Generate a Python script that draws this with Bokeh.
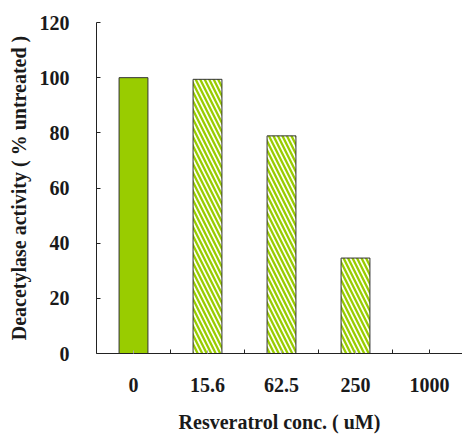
from bokeh.plotting import figure
from bokeh.models import Range1d, FixedTicker, ColumnDataSource
from bokeh.embed import file_html
from bokeh.resources import INLINE

categories = ["0", "15.6", "62.5", "250", "1000"]
values = [100, 99.4, 78.9, 34.6, 0]
y_ticks = [0, 20, 40, 60, 80, 100, 120]

xs = [i + 0.5 for i in range(len(categories))]
GREEN = "#99cc00"
FONT = "Liberation Serif"

p = figure(frame_width=366, frame_height=331, output_backend="svg", toolbar_location=None,
           x_range=Range1d(0, 366 / 74), y_range=Range1d(0, 120),
           min_border_left=96, min_border_top=22, min_border_right=0, min_border_bottom=80)
p.outline_line_color = None
p.xgrid.visible = False
p.ygrid.visible = False

solid = ColumnDataSource(dict(x=xs[:1], top=values[:1]))
hatched = ColumnDataSource(dict(x=xs[1:], top=values[1:]))
p.vbar(x="x", top="top", width=0.39, source=solid, fill_color=GREEN,
       line_color="#333333", line_width=1)
p.vbar(x="x", top="top", width=0.39, source=hatched, fill_color="#fdfff5",
       hatch_pattern="\\", hatch_color=GREEN, hatch_scale=9, hatch_weight=2.3,
       line_color="#333333", line_width=1)

# y axis
ya = p.yaxis[0]
ya.ticker = FixedTicker(ticks=y_ticks)
ya.major_tick_in = 4
ya.major_tick_out = 0
ya.minor_tick_line_color = None
ya.major_label_standoff = 27
ya.axis_label = "Deacetylase activity ( % untreated )"
ya.axis_label_standoff = 7
ya.axis_line_color = "#222222"
ya.major_tick_line_color = "#222222"

# x axis
xa = p.xaxis[0]
xa.ticker = FixedTicker(ticks=xs, minor_ticks=[1, 2, 3, 4, 4.5])
xa.major_label_overrides = {x: c for x, c in zip(xs, categories)}
xa.major_tick_in = 3
xa.major_tick_out = 0
xa.major_tick_line_color = "#aaaaaa"
xa.minor_tick_in = 4
xa.minor_tick_out = 0
xa.minor_tick_line_color = "#222222"
xa.major_label_standoff = 24
xa.axis_label = "Resveratrol conc. ( uM)"
xa.axis_label_standoff = 16
xa.axis_line_color = "#222222"

for ax in (xa, ya):
    ax.major_label_text_font = FONT
    ax.major_label_text_font_style = "bold"
    ax.major_label_text_font_size = "20px"
    ax.major_label_text_color = "#1a1a1a"
    ax.axis_label_text_font = FONT
    ax.axis_label_text_font_style = "bold"
    ax.axis_label_text_font_size = "20px"
    ax.axis_label_text_color = "#1a1a1a"

open("out.html", "w").write(file_html(p, INLINE))
